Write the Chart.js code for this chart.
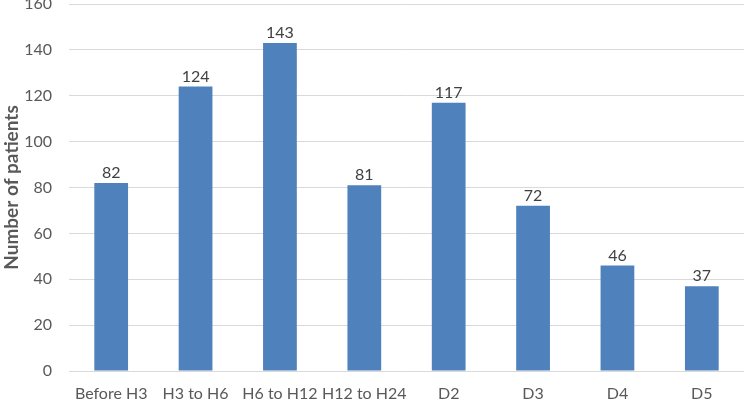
<!DOCTYPE html>
<html>
<head>
<meta charset="utf-8">
<script src="https://cdn.jsdelivr.net/npm/chart.js@4"></script>
<style>
  html, body { margin: 0; padding: 0; background: #fff; }
  #wrap { width: 744px; height: 400px; }
</style>
</head>
<body>
<div id="wrap"><canvas id="myChart"></canvas></div>
<script>
// data
var categories = ['Before H3', 'H3 to H6', 'H6 to H12', 'H12 to H24', 'D2', 'D3', 'D4', 'D5'];
var patients = [82, 124, 143, 81, 117, 72, 46, 37];
var yTicks = [0, 20, 40, 60, 80, 100, 120, 140, 160];

// labels on top of the bars
var barLabels = {
    id: 'barLabels',
    afterDatasetsDraw: function(chart) {
        var ctx = chart.ctx;
        var meta = chart.getDatasetMeta(0);
        ctx.save();
        ctx.font = '16px Lato';
        ctx.fillStyle = '#404040';
        ctx.textAlign = 'center';
        ctx.textBaseline = 'bottom';
        meta.data.forEach(function(bar, i) {
            ctx.fillText(patients[i], bar.x, bar.y - 2);
        });
        ctx.restore();
    }
};

var ctx = document.getElementById('myChart').getContext('2d');
var myChart = new Chart(ctx, {
    type: 'bar',
    data: {
        labels: categories,
        datasets: [{
            label: 'Number of patients',
            data: patients,
            backgroundColor: '#4f81bd',
            barPercentage: 0.4,
            categoryPercentage: 1
        }]
    },
    options: {
        responsive: true,
        maintainAspectRatio: false,
        animation: false,
        layout: { padding: 0 },
        plugins: {
            legend: { display: false },
            tooltip: { enabled: false }
        },
        scales: {
            x: {
                grid: { display: false },
                border: { display: false },
                ticks: { color: '#595959', font: { family: 'Lato', size: 16 }, padding: 5, maxRotation: 0, autoSkip: false },
                afterFit: function(axis) {
                    axis.height = 29;
                    axis.paddingLeft = 0;
                    axis.paddingRight = 0;
                }
            },
            y: {
                min: 0,
                max: 160,
                afterBuildTicks: function(axis) {
                    axis.ticks = yTicks.map(function(v) { return { value: v }; });
                },
                grid: { color: '#d9d9d9', lineWidth: 1, drawTicks: false },
                border: { display: false },
                ticks: { color: '#595959', font: { family: 'Lato', size: 16 }, padding: 17 },
                title: {
                    display: true,
                    text: 'Number of patients',
                    color: '#595959',
                    font: { family: 'Lato', size: 19, weight: 'bold' },
                    padding: 0
                },
                afterFit: function(axis) {
                    axis.width = 69;
                    axis.paddingTop = 4;
                    axis.paddingBottom = 0;
                }
            }
        }
    },
    plugins: [barLabels]
});
</script>
</body>
</html>
